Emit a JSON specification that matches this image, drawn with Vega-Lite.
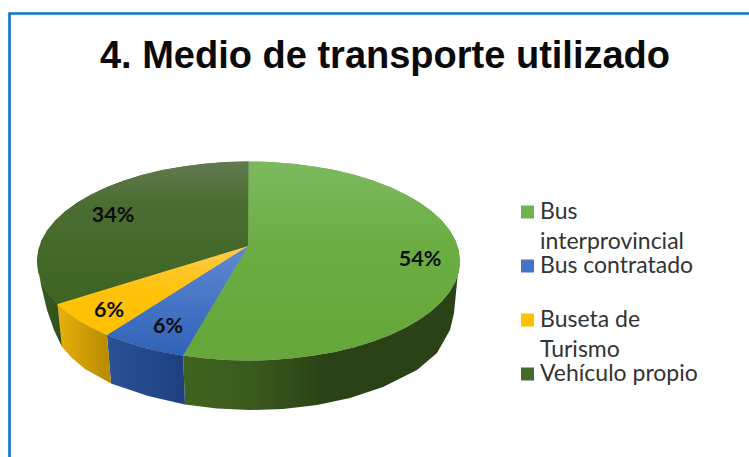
{"$schema":"https://vega.github.io/schema/vega-lite/v6.json","width":749,"height":457,"autosize":"none","padding":0,"background":"white",
"title":{"text":"4. Medio de transporte utilizado","anchor":"middle","dx":10.5,"offset":-76,"font":"Liberation Sans","fontWeight":"bold","fontSize":38,"color":"#0a0a0a"},
"config":{"view":{"stroke":null}},
"datasets":{
"side":[
{"slice":"Vehículo propio","i":0,"x":37,"y":261},{"slice":"Vehículo propio","i":1,"x":38.2,"y":271.4},{"slice":"Vehículo propio","i":2,"x":41.6,"y":281.7},{"slice":"Vehículo propio","i":3,"x":47.3,"y":291.7},{"slice":"Vehículo propio","i":4,"x":57.5,"y":304},{"slice":"Vehículo propio","i":5,"x":62,"y":347},{"slice":"Vehículo propio","i":6,"x":54,"y":330},{"slice":"Vehículo propio","i":7,"x":47,"y":310},{"slice":"Vehículo propio","i":8,"x":41,"y":285},
{"slice":"Buseta de Turismo","i":0,"x":57.5,"y":304},{"slice":"Buseta de Turismo","i":1,"x":65.3,"y":310.8},{"slice":"Buseta de Turismo","i":2,"x":77.4,"y":319.5},{"slice":"Buseta de Turismo","i":3,"x":91.3,"y":327.6},{"slice":"Buseta de Turismo","i":4,"x":107,"y":334.9},{"slice":"Buseta de Turismo","i":5,"x":111,"y":383.5},{"slice":"Buseta de Turismo","i":6,"x":85,"y":369},{"slice":"Buseta de Turismo","i":7,"x":72,"y":358},{"slice":"Buseta de Turismo","i":8,"x":62,"y":347},
{"slice":"Bus contratado","i":0,"x":107,"y":334.9},{"slice":"Bus contratado","i":1,"x":124.2,"y":341.5},{"slice":"Bus contratado","i":2,"x":142.7,"y":347.2},{"slice":"Bus contratado","i":3,"x":162.5,"y":351.9},{"slice":"Bus contratado","i":4,"x":183.1,"y":355.6},{"slice":"Bus contratado","i":5,"x":185,"y":404.5},{"slice":"Bus contratado","i":6,"x":148,"y":396},{"slice":"Bus contratado","i":7,"x":111,"y":383.5},
{"slice":"Bus interprovincial","i":0,"x":183.1,"y":355.6},{"slice":"Bus interprovincial","i":1,"x":204.5,"y":358.3},{"slice":"Bus interprovincial","i":2,"x":226.4,"y":360},{"slice":"Bus interprovincial","i":3,"x":248.5,"y":360.5},{"slice":"Bus interprovincial","i":4,"x":270.6,"y":360},{"slice":"Bus interprovincial","i":5,"x":292.5,"y":358.3},{"slice":"Bus interprovincial","i":6,"x":313.9,"y":355.6},{"slice":"Bus interprovincial","i":7,"x":334.5,"y":351.9},{"slice":"Bus interprovincial","i":8,"x":354.3,"y":347.2},{"slice":"Bus interprovincial","i":9,"x":372.8,"y":341.5},{"slice":"Bus interprovincial","i":10,"x":390,"y":334.9},{"slice":"Bus interprovincial","i":11,"x":405.7,"y":327.6},{"slice":"Bus interprovincial","i":12,"x":419.6,"y":319.5},{"slice":"Bus interprovincial","i":13,"x":431.7,"y":310.8},{"slice":"Bus interprovincial","i":14,"x":441.7,"y":301.5},{"slice":"Bus interprovincial","i":15,"x":449.7,"y":291.7},{"slice":"Bus interprovincial","i":16,"x":455.4,"y":281.7},{"slice":"Bus interprovincial","i":17,"x":458.8,"y":271.4},{"slice":"Bus interprovincial","i":18,"x":460,"y":261},{"slice":"Bus interprovincial","i":19,"x":457.5,"y":277},{"slice":"Bus interprovincial","i":20,"x":454,"y":313},{"slice":"Bus interprovincial","i":21,"x":450,"y":330},{"slice":"Bus interprovincial","i":22,"x":437,"y":353},{"slice":"Bus interprovincial","i":23,"x":417,"y":370},{"slice":"Bus interprovincial","i":24,"x":383,"y":387},{"slice":"Bus interprovincial","i":25,"x":350,"y":398},{"slice":"Bus interprovincial","i":26,"x":317,"y":405},{"slice":"Bus interprovincial","i":27,"x":283,"y":409},{"slice":"Bus interprovincial","i":28,"x":250,"y":410},{"slice":"Bus interprovincial","i":29,"x":217,"y":408.5},{"slice":"Bus interprovincial","i":30,"x":185,"y":404.5}
],
"top":[
{"slice":"Bus interprovincial","i":0,"x":248,"y":246},{"slice":"Bus interprovincial","i":1,"x":248.5,"y":161.5},{"slice":"Bus interprovincial","i":2,"x":270.6,"y":162},{"slice":"Bus interprovincial","i":3,"x":292.5,"y":163.7},{"slice":"Bus interprovincial","i":4,"x":313.9,"y":166.4},{"slice":"Bus interprovincial","i":5,"x":334.5,"y":170.1},{"slice":"Bus interprovincial","i":6,"x":354.3,"y":174.8},{"slice":"Bus interprovincial","i":7,"x":372.8,"y":180.5},{"slice":"Bus interprovincial","i":8,"x":390,"y":187.1},{"slice":"Bus interprovincial","i":9,"x":405.7,"y":194.4},{"slice":"Bus interprovincial","i":10,"x":419.6,"y":202.5},{"slice":"Bus interprovincial","i":11,"x":431.7,"y":211.2},{"slice":"Bus interprovincial","i":12,"x":441.7,"y":220.5},{"slice":"Bus interprovincial","i":13,"x":449.7,"y":230.3},{"slice":"Bus interprovincial","i":14,"x":455.4,"y":240.3},{"slice":"Bus interprovincial","i":15,"x":458.8,"y":250.6},{"slice":"Bus interprovincial","i":16,"x":460,"y":261},{"slice":"Bus interprovincial","i":17,"x":458.8,"y":271.4},{"slice":"Bus interprovincial","i":18,"x":455.4,"y":281.7},{"slice":"Bus interprovincial","i":19,"x":449.7,"y":291.7},{"slice":"Bus interprovincial","i":20,"x":441.7,"y":301.5},{"slice":"Bus interprovincial","i":21,"x":431.7,"y":310.8},{"slice":"Bus interprovincial","i":22,"x":419.6,"y":319.5},{"slice":"Bus interprovincial","i":23,"x":405.7,"y":327.6},{"slice":"Bus interprovincial","i":24,"x":390,"y":334.9},{"slice":"Bus interprovincial","i":25,"x":372.8,"y":341.5},{"slice":"Bus interprovincial","i":26,"x":354.3,"y":347.2},{"slice":"Bus interprovincial","i":27,"x":334.5,"y":351.9},{"slice":"Bus interprovincial","i":28,"x":313.9,"y":355.6},{"slice":"Bus interprovincial","i":29,"x":292.5,"y":358.3},{"slice":"Bus interprovincial","i":30,"x":270.6,"y":360},{"slice":"Bus interprovincial","i":31,"x":248.5,"y":360.5},{"slice":"Bus interprovincial","i":32,"x":226.4,"y":360},{"slice":"Bus interprovincial","i":33,"x":204.5,"y":358.3},{"slice":"Bus interprovincial","i":34,"x":183.1,"y":355.6},
{"slice":"Bus contratado","i":0,"x":248,"y":246},{"slice":"Bus contratado","i":1,"x":183.1,"y":355.6},{"slice":"Bus contratado","i":2,"x":162.5,"y":351.9},{"slice":"Bus contratado","i":3,"x":142.7,"y":347.2},{"slice":"Bus contratado","i":4,"x":124.2,"y":341.5},{"slice":"Bus contratado","i":5,"x":107,"y":334.9},
{"slice":"Buseta de Turismo","i":0,"x":248,"y":246},{"slice":"Buseta de Turismo","i":1,"x":107,"y":334.9},{"slice":"Buseta de Turismo","i":2,"x":91.3,"y":327.6},{"slice":"Buseta de Turismo","i":3,"x":77.4,"y":319.5},{"slice":"Buseta de Turismo","i":4,"x":65.3,"y":310.8},{"slice":"Buseta de Turismo","i":5,"x":57.5,"y":304},
{"slice":"Vehículo propio","i":0,"x":248,"y":246},{"slice":"Vehículo propio","i":1,"x":57.5,"y":304},{"slice":"Vehículo propio","i":2,"x":47.3,"y":291.7},{"slice":"Vehículo propio","i":3,"x":41.6,"y":281.7},{"slice":"Vehículo propio","i":4,"x":38.2,"y":271.4},{"slice":"Vehículo propio","i":5,"x":37,"y":261},{"slice":"Vehículo propio","i":6,"x":38.2,"y":250.6},{"slice":"Vehículo propio","i":7,"x":41.6,"y":240.3},{"slice":"Vehículo propio","i":8,"x":47.3,"y":230.3},{"slice":"Vehículo propio","i":9,"x":55.3,"y":220.5},{"slice":"Vehículo propio","i":10,"x":65.3,"y":211.2},{"slice":"Vehículo propio","i":11,"x":77.4,"y":202.5},{"slice":"Vehículo propio","i":12,"x":91.3,"y":194.4},{"slice":"Vehículo propio","i":13,"x":107,"y":187.1},{"slice":"Vehículo propio","i":14,"x":124.2,"y":180.5},{"slice":"Vehículo propio","i":15,"x":142.7,"y":174.8},{"slice":"Vehículo propio","i":16,"x":162.5,"y":170.1},{"slice":"Vehículo propio","i":17,"x":183.1,"y":166.4},{"slice":"Vehículo propio","i":18,"x":204.5,"y":163.7},{"slice":"Vehículo propio","i":19,"x":226.4,"y":162},{"slice":"Vehículo propio","i":20,"x":248.5,"y":161.5}
],
"labels":[{"label":"54%","x":420,"y":259.5},{"label":"6%","x":168,"y":326.5},{"label":"6%","x":109,"y":310.5},{"label":"34%","x":113,"y":215.5}],
"frame":[{"i":0,"x":9.5,"y":457},{"i":1,"x":9.5,"y":13.5},{"i":2,"x":749,"y":13.5}]
},
"encoding":{
"x":{"field":"x","type":"quantitative","axis":null,"scale":{"domain":[0,749],"nice":false,"zero":false}},
"y":{"field":"y","type":"quantitative","axis":null,"scale":{"domain":[457,0],"nice":false,"zero":false}},
"order":{"field":"i","type":"quantitative"}
},
"layer":[
{"data":{"name":"frame"},"mark":{"type":"line","stroke":"#0f75c8","strokeWidth":2.6}},
{"data":{"name":"top"},"mark":{"type":"line","strokeWidth":0},"encoding":{"fill":{"field":"slice","type":"nominal","scale":{"domain":["Bus interprovincial","Bus contratado","Buseta de Turismo","Vehículo propio"],"range":["#70b24b","#4472c4","#ffc000","#46692c"]},"legend":{"title":null,"orient":"none","legendX":516,"legendY":200.5,"symbolType":"square","symbolSize":169,"symbolStrokeWidth":0,"labelFont":"Lato","labelFontSize":23,"labelColor":"#333333","labelOffset":1,"labelBaseline":"middle","labelLimit":220,"rowPadding":0,"encoding":{"labels":{"lineHeight":{"value":30}}},"labelExpr":"datum.label === 'Bus interprovincial' ? ['Bus','interprovincial'] : datum.label === 'Buseta de Turismo' ? ['Buseta de','Turismo'] : [datum.label,' ']"}}}},
{"data":{"name":"side"},"transform":[{"filter":"datum.slice === 'Bus interprovincial'"}],"mark":{"type":"line","strokeWidth":0,"fill":{"gradient":"linear","x1":0,"y1":0,"x2":1,"y2":0,"stops":[{"offset":0,"color":"#40641f"},{"offset":0.25,"color":"#3a5a1d"},{"offset":0.5,"color":"#2b4216"},{"offset":1,"color":"#2b4116"}]}}},
{"data":{"name":"side"},"transform":[{"filter":"datum.slice === 'Bus contratado'"}],"mark":{"type":"line","strokeWidth":0,"fill":{"gradient":"linear","x1":0,"y1":0,"x2":1,"y2":0,"stops":[{"offset":0,"color":"#2a5296"},{"offset":1,"color":"#1f4080"}]}}},
{"data":{"name":"side"},"transform":[{"filter":"datum.slice === 'Buseta de Turismo'"}],"mark":{"type":"line","strokeWidth":0,"fill":{"gradient":"linear","x1":0,"y1":0,"x2":1,"y2":0,"stops":[{"offset":0,"color":"#e6b10c"},{"offset":1,"color":"#b58900"}]}}},
{"data":{"name":"side"},"transform":[{"filter":"datum.slice === 'Vehículo propio'"}],"mark":{"type":"line","strokeWidth":0,"fill":{"gradient":"linear","x1":0,"y1":0,"x2":1,"y2":0,"stops":[{"offset":0,"color":"#3a5c20"},{"offset":1,"color":"#30501a"}]}}},
{"data":{"name":"top"},"transform":[{"filter":"datum.slice === 'Bus interprovincial'"}],"mark":{"type":"line","strokeWidth":0,"fill":{"gradient":"linear","x1":0,"y1":0,"x2":0,"y2":1,"stops":[{"offset":0,"color":"#7db95f"},{"offset":0.45,"color":"#6aad42"},{"offset":1,"color":"#66a63a"}]}}},
{"data":{"name":"top"},"transform":[{"filter":"datum.slice === 'Bus contratado'"}],"mark":{"type":"line","strokeWidth":0,"fill":{"gradient":"linear","x1":0,"y1":0,"x2":0,"y2":1,"stops":[{"offset":0,"color":"#6089d2"},{"offset":1,"color":"#2f62b8"}]}}},
{"data":{"name":"top"},"transform":[{"filter":"datum.slice === 'Buseta de Turismo'"}],"mark":{"type":"line","strokeWidth":0,"fill":{"gradient":"linear","x1":0,"y1":0,"x2":0,"y2":1,"stops":[{"offset":0,"color":"#ffca4d"},{"offset":0.5,"color":"#ffc20a"},{"offset":1,"color":"#ffc000"}]}}},
{"data":{"name":"top"},"transform":[{"filter":"datum.slice === 'Vehículo propio'"}],"mark":{"type":"line","strokeWidth":0,"fill":{"gradient":"linear","x1":0,"y1":0,"x2":0,"y2":1,"stops":[{"offset":0,"color":"#617a50"},{"offset":0.3,"color":"#4b6d32"},{"offset":1,"color":"#3e6322"}]}}},
{"data":{"name":"labels"},"mark":{"type":"text","font":"Lato","fontWeight":"bold","fontSize":21.5,"color":"#0d0d0d"},"encoding":{"order":null,"text":{"field":"label","type":"nominal"}}}
]
}
